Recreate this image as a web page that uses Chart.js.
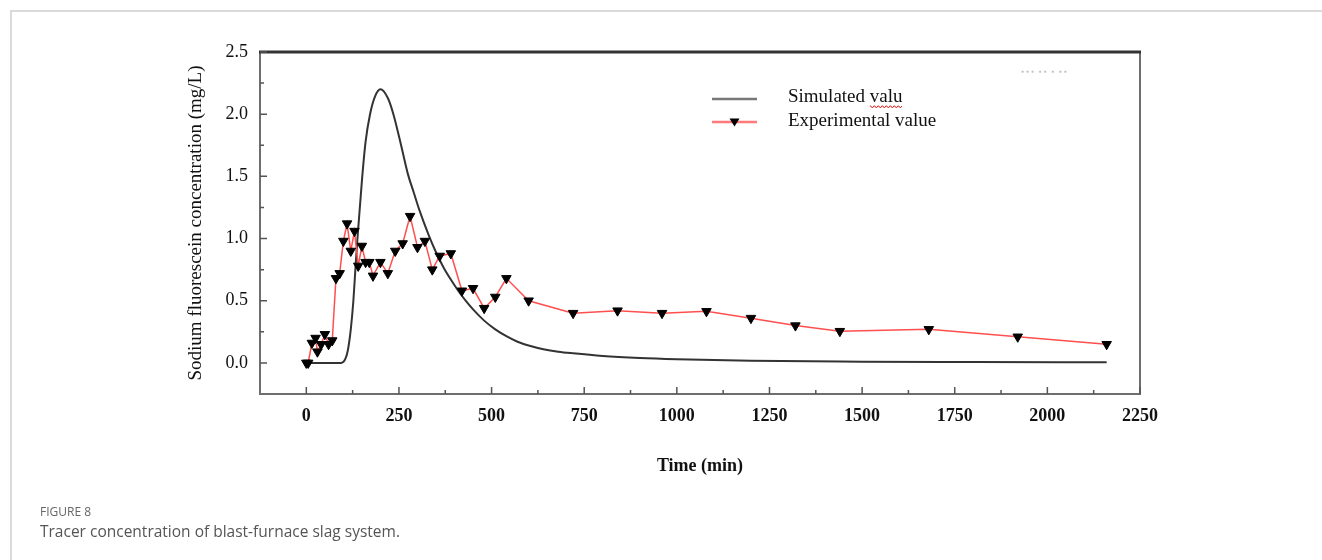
<!DOCTYPE html>
<html>
<head>
<meta charset="utf-8">
<script src="https://cdn.jsdelivr.net/npm/chart.js@4.4.1/dist/chart.umd.min.js"></script>
<style>
  html, body { margin: 0; padding: 0; background: #fff; }
  body { width: 1322px; height: 560px; position: relative; overflow: hidden; }
  .frame {
    position: absolute; left: 10px; top: 10px; width: 1330px; height: 570px;
    border-top: 2px solid #dadada; border-left: 2px solid #dadada;
  }
  #myChart { position: absolute; left: 0; top: 0; }
  .fig-label {
    position: absolute; left: 40px; top: 503px;
    font-family: "Open Sans", sans-serif; font-size: 12px; color: #666;
  }
  .fig-caption {
    position: absolute; left: 40px; top: 520px;
    font-family: "Open Sans", sans-serif; font-size: 15.5px; color: #555;
  }
</style>
</head>
<body>
<div class="frame"></div>
<canvas id="myChart" width="1322" height="560"></canvas>
<div class="fig-label">FIGURE 8</div>
<div class="fig-caption">Tracer concentration of blast-furnace slag system.</div>

<script>
const seriesNames = ["Simulated valu", "Experimental value"];

// experimental points (min, mg/L)
const expTime = [0, 5, 15, 25, 30, 40, 50, 60, 70, 80, 90, 100, 110, 120, 130, 140, 150, 160, 170, 180,
  200, 220, 240, 260, 280, 300, 320, 340, 360, 390, 420, 450, 480, 510, 540, 600, 720, 840, 960, 1080,
  1200, 1320, 1440, 1680, 1920, 2160];
const expConc = [0, 0, 0.16, 0.20, 0.09, 0.15, 0.23, 0.15, 0.18, 0.68, 0.72, 0.98, 1.12, 0.90, 1.06, 0.78, 0.94, 0.81, 0.81, 0.70,
  0.81, 0.72, 0.90, 0.96, 1.18, 0.93, 0.98, 0.75, 0.86, 0.88, 0.58, 0.60, 0.44, 0.53, 0.68, 0.50, 0.40, 0.42, 0.40, 0.415,
  0.36, 0.30, 0.255, 0.27, 0.21, 0.15];

// simulated curve
const simTime = [0, 60, 94, 105, 112, 120, 127, 133, 138, 145, 151, 160, 172, 185, 200, 220, 235, 255, 274, 290,
  305, 330, 350, 370, 390, 410, 430, 450, 480, 510, 540, 570, 600, 640, 680, 720, 800, 900, 1000, 1200,
  1500, 1800, 2160];
const simConc = [0, 0, 0, 0.03, 0.1, 0.27, 0.5, 0.78, 1.0, 1.27, 1.5, 1.78, 2.0, 2.14, 2.2, 2.13, 2.0, 1.76, 1.52, 1.37,
  1.23, 1.03, 0.89, 0.77, 0.67, 0.58, 0.5, 0.43, 0.34, 0.27, 0.215, 0.17, 0.14, 0.11, 0.09, 0.077, 0.056, 0.04, 0.03, 0.017,
  0.01, 0.007, 0.005];

const xTicks = [0, 250, 500, 750, 1000, 1250, 1500, 1750, 2000, 2250];
const yTicks = [0, 0.5, 1.0, 1.5, 2.0, 2.5];

Chart.defaults.font.family = '"Liberation Serif", "Times New Roman", serif';
Chart.defaults.color = "#111";

// box round the plot, dark top edge like the original
const framePlugin = {
  id: "frame",
  afterDraw(chart) {
    const { ctx, chartArea: a } = chart;
    ctx.save();
    ctx.strokeStyle = "#6e6e6e";
    ctx.lineWidth = 2;
    ctx.strokeRect(a.left, a.top, a.right - a.left, a.bottom - a.top);
    ctx.strokeStyle = "#333";
    ctx.lineWidth = 3;
    ctx.beginPath();
    ctx.moveTo(a.left - 1, a.top);
    ctx.lineTo(a.right + 1, a.top);
    ctx.stroke();
    ctx.restore();
  },
};

// inward ticks, major + minor
const tickPlugin = {
  id: "inTicks",
  afterDraw(chart) {
    const { ctx, chartArea: a, scales } = chart;
    ctx.save();
    ctx.strokeStyle = "#555";
    ctx.lineWidth = 1.5;
    ctx.beginPath();
    for (let i = 0; i < xTicks.length; i++) {
      const px = scales.x.getPixelForValue(xTicks[i]);
      ctx.moveTo(px, a.bottom);
      ctx.lineTo(px, a.bottom - 7);
      if (i < xTicks.length - 1) {
        const mx = scales.x.getPixelForValue((xTicks[i] + xTicks[i + 1]) / 2);
        ctx.moveTo(mx, a.bottom);
        ctx.lineTo(mx, a.bottom - 4);
      }
    }
    for (let i = 0; i < yTicks.length; i++) {
      const py = scales.y.getPixelForValue(yTicks[i]);
      ctx.moveTo(a.left, py);
      ctx.lineTo(a.left + 7, py);
      if (i < yTicks.length - 1) {
        const my = scales.y.getPixelForValue((yTicks[i] + yTicks[i + 1]) / 2);
        ctx.moveTo(a.left, my);
        ctx.lineTo(a.left + 4, my);
      }
    }
    ctx.stroke();
    ctx.restore();
  },
};

// legend drawn inside the plot
const legendPlugin = {
  id: "insideLegend",
  afterDraw(chart) {
    const { ctx, chartArea: a } = chart;
    const x0 = a.left + 452;
    const y0 = a.top + 47;
    const y1 = y0 + 23;
    const tx = x0 + 76;
    ctx.save();
    ctx.lineWidth = 2.5;
    ctx.strokeStyle = "#777";
    ctx.beginPath();
    ctx.moveTo(x0, y0);
    ctx.lineTo(x0 + 45, y0);
    ctx.stroke();
    ctx.strokeStyle = "#ff7a7a";
    ctx.beginPath();
    ctx.moveTo(x0, y1);
    ctx.lineTo(x0 + 45, y1);
    ctx.stroke();
    ctx.fillStyle = "#000";
    ctx.beginPath();
    ctx.moveTo(x0 + 17.5, y1 - 3.5);
    ctx.lineTo(x0 + 27.5, y1 - 3.5);
    ctx.lineTo(x0 + 22.5, y1 + 4.5);
    ctx.closePath();
    ctx.fill();

    ctx.font = '19px "Liberation Serif"';
    ctx.fillStyle = "#111";
    ctx.textBaseline = "alphabetic";
    ctx.fillText(seriesNames[0], tx, y0 + 3);
    ctx.fillText(seriesNames[1], tx, y1 + 4);

    // spell-check squiggle under "valu"
    const sx = tx + ctx.measureText("Simulated ").width;
    const sw = ctx.measureText("valu").width;
    ctx.strokeStyle = "#e02020";
    ctx.lineWidth = 1;
    ctx.beginPath();
    for (let x = 0; x <= sw; x += 1) {
      const yy = y0 + 7 + (Math.floor(x / 2) % 2 === 0 ? 0 : 1.5);
      if (x === 0) ctx.moveTo(sx + x, yy);
      else ctx.lineTo(sx + x, yy);
    }
    ctx.stroke();

    // faint scan marks top right
    ctx.font = '8px "DejaVu Sans"';
    ctx.fillStyle = "#c4c4c4";
    ctx.fillText("\u2219\u2219\u2219 \u2219\u2219 \u2219 \u2219\u2219", a.left + 760, a.top + 22);
    ctx.restore();
  },
};

const ctx = document.getElementById("myChart");

new Chart(ctx, {
  type: "line",
  data: {
    datasets: [
      {
        label: seriesNames[1],
        data: expTime.map((t, i) => ({ x: t, y: expConc[i] })),
        borderColor: "#ff4f4f",
        borderWidth: 1.5,
        pointStyle: "triangle",
        rotation: 180,
        pointRadius: 5.5,
        pointBackgroundColor: "#000",
        pointBorderColor: "#000",
        pointBorderWidth: 1,
        tension: 0,
      },
      {
        label: seriesNames[0],
        data: simTime.map((t, i) => ({ x: t, y: simConc[i] })),
        borderColor: "#333",
        borderWidth: 2,
        pointRadius: 0,
        cubicInterpolationMode: "monotone",
      },
    ],
  },
  options: {
    responsive: false,
    animation: false,
    layout: { padding: { left: 185, top: 52, right: 182, bottom: 80 } },
    plugins: {
      legend: { display: false },
      tooltip: { enabled: false },
    },
    scales: {
      x: {
        type: "linear",
        min: -125,
        max: 2250,
        afterBuildTicks: (s) => { s.ticks = xTicks.map((v) => ({ value: v })); },
        afterFit: (s) => { s.height = 86; },
        grid: { display: false, drawTicks: false },
        border: { display: false },
        ticks: {
          padding: 12,
          maxRotation: 0,
          autoSkip: false,
          color: "#111",
          font: { size: 18, weight: "bold" },
          callback: (v) => String(v),
        },
        title: {
          display: true,
          text: "Time (min)",
          color: "#111",
          font: { size: 18, weight: "bold" },
          padding: { top: 0, bottom: 3 },
        },
      },
      y: {
        min: -0.25,
        max: 2.5,
        afterBuildTicks: (s) => { s.ticks = yTicks.map((v) => ({ value: v })); },
        afterFit: (s) => { s.width = 75; },
        grid: { display: false, drawTicks: false },
        border: { display: false },
        ticks: {
          padding: 12,
          color: "#111",
          font: { size: 18 },
          callback: (v) => v.toFixed(1),
        },
        title: {
          display: true,
          text: "Sodium fluorescein concentration (mg/L)",
          color: "#111",
          font: { size: 19 },
          padding: { top: 0, bottom: 0 },
        },
      },
    },
  },
  plugins: [framePlugin, tickPlugin, legendPlugin],
});
</script>
</body>
</html>
